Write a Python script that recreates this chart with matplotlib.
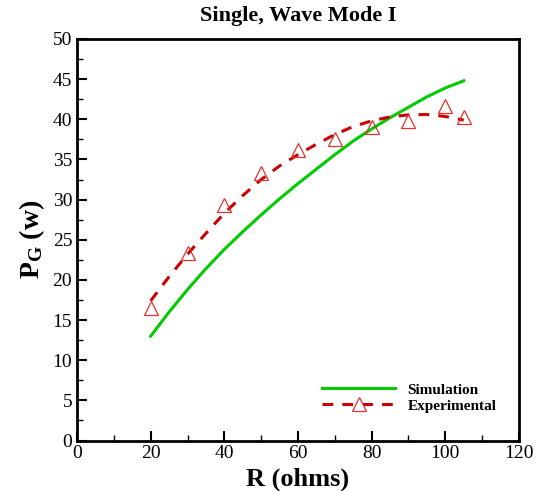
import matplotlib
matplotlib.use("Agg")
import matplotlib.pyplot as plt
from matplotlib.ticker import MultipleLocator

plt.rcParams["font.family"] = "Liberation Serif"
plt.rcParams["mathtext.fontset"] = "custom"
plt.rcParams["mathtext.rm"] = "Liberation Serif"
plt.rcParams["mathtext.bf"] = "Liberation Serif:bold"

# simulation curve
sim_r = [20, 25, 30, 35, 40, 45, 50, 55, 60, 65, 70, 75, 80, 85, 90, 95, 100, 105]
sim_p = [13.0, 16.0, 18.8, 21.4, 23.8, 26.0, 28.1, 30.1, 32.0, 33.8,
         35.6, 37.3, 38.8, 40.2, 41.5, 42.8, 43.9, 44.8]

# experimental fit (dashed) and measured points
fit_r = [20, 25, 30, 35, 40, 45, 50, 55, 60, 65, 70, 75, 80, 85, 90, 95, 100, 105]
fit_p = [17.4, 20.4, 23.2, 25.8, 28.3, 30.5, 32.5, 34.2, 35.6, 36.9,
         38.1, 39.1, 39.8, 40.3, 40.55, 40.6, 40.35, 39.9]
exp_r = [20, 30, 40, 50, 60, 70, 80, 90, 100, 105]
exp_p = [16.5, 23.3, 29.3, 33.3, 36.2, 37.6, 39.0, 39.8, 41.6, 40.3]

fig = plt.figure(figsize=(5.4, 4.91), dpi=100)
ax = fig.add_axes([0.1426, 0.1028, 0.8185, 0.8178])

ax.plot(sim_r, sim_p, color="#00cc00", lw=2.2, label="Simulation")
ax.plot(fit_r, fit_p, color="#cc0000", lw=2.2, ls=(0, (3.5, 3)), zorder=3)
ax.plot(exp_r, exp_p, ls="none", marker="^", ms=10, mfc="none",
        mec="#e03030", mew=0.9, zorder=4)
# legend handle combining dashes and a triangle
ax.plot([], [], color="#cc0000", lw=2.2, ls=(0, (3.5, 3)), marker="^", ms=10,
        mfc="white", mec="#e03030", mew=0.9, label="Experimental")

ax.set_xlim(0, 120)
ax.set_ylim(0, 50)
ax.xaxis.set_major_locator(MultipleLocator(20))
ax.xaxis.set_minor_locator(MultipleLocator(10))
ax.yaxis.set_major_locator(MultipleLocator(5))
ax.yaxis.set_minor_locator(MultipleLocator(2.5))
ax.tick_params(which="both", direction="in", top=False, right=False, labelsize=14)
ax.tick_params(which="major", length=7, width=1.5)
ax.tick_params(which="minor", length=4, width=1)
for s in ax.spines.values():
    s.set_linewidth(2)

ax.set_title("Single, Wave Mode I", fontsize=16, fontweight="bold", pad=13)
ax.set_xlabel("R (ohms)", fontsize=19, fontweight="bold", labelpad=4)
ax.set_ylabel(r"$\mathbf{P_G}$ (w)", fontsize=20, fontweight="bold", labelpad=4)

ax.legend(loc="lower right", bbox_to_anchor=(0.98, 0.035), frameon=False,
          prop={"weight": "bold", "size": 11}, handlelength=4.8,
          handletextpad=0.8, labelspacing=0.15, numpoints=1)
fig.savefig("out.png", dpi=100)
